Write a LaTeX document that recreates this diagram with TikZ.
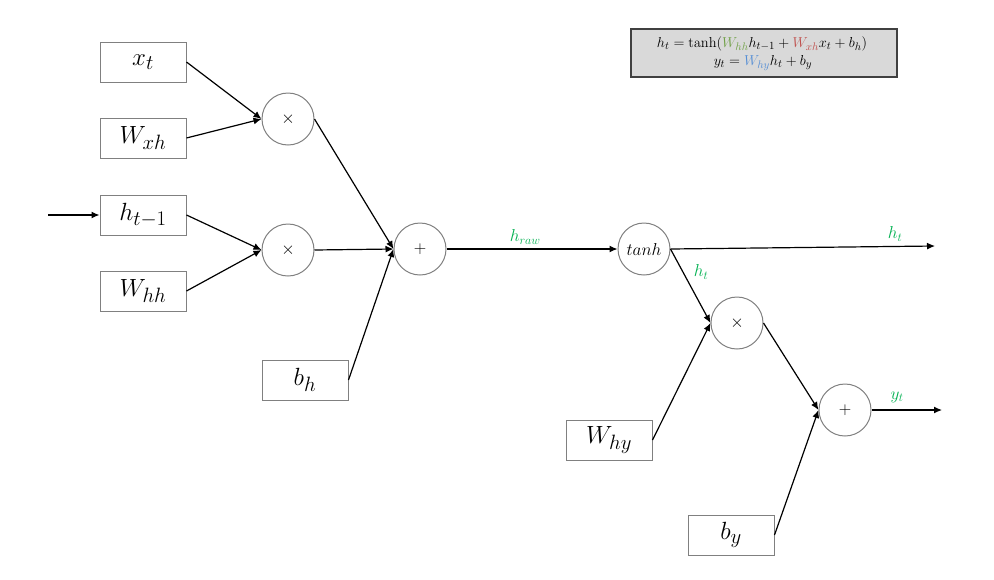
\documentclass[tikz,border=0pt]{standalone}
\usetikzlibrary{arrows.meta}
\definecolor{lbl}{RGB}{0,176,80}
\definecolor{wgreen}{RGB}{112,160,70}
\definecolor{wred}{RGB}{192,80,77}
\definecolor{wblue}{RGB}{85,142,213}
\definecolor{edgegray}{RGB}{128,128,128}
\definecolor{boxfill}{RGB}{217,217,217}
\begin{document}
\begin{tikzpicture}[x=1pt,y=-1pt,
  inbox/.style={draw=edgegray,line width=1pt,minimum width=86pt,minimum height=40pt,inner sep=0pt,font=\fontsize{28}{30}\selectfont},
  op/.style={draw=edgegray,line width=1pt,circle,minimum size=52pt,inner sep=0pt,font=\fontsize{16}{18}\selectfont},
  conn/.style={line width=1.2pt,-{Latex[length=8pt,width=7pt]}},
  tag/.style={text=lbl,font=\fontsize{17}{19}\selectfont},
  eqtext/.style={font=\fontsize{15.5}{17}\selectfont}]
\useasboundingbox (0,0) rectangle (994,579);

% input boxes
\node[inbox] (xt)  at (143,62)  {$x_t$};
\node[inbox] (wxh) at (143,138) {$W_{xh}$};
\node[inbox] (hp)  at (143,215) {$h_{t-1}$};
\node[inbox] (whh) at (143,291) {$W_{hh}$};
\node[inbox] (bh)  at (305,380) {$b_h$};
\node[inbox] (why) at (609,440) {$W_{hy}$};
\node[inbox] (by)  at (731,535) {$b_y$};

% operation nodes
\node[op] (m1) at (288,119) {$\times$};
\node[op] (m2) at (288,250) {$\times$};
\node[op] (a1) at (420,249) {$+$};
\node[op,font=\fontsize{17}{19}\selectfont] (th) at (644,249) {$tanh$};
\node[op] (m3) at (737,323) {$\times$};
\node[op] (a2) at (845,410) {$+$};

% free ends
\coordinate (hin)  at (48,215);
\coordinate (hout) at (935,246);
\coordinate (yout) at (942,410);

% equations panel
\node[draw=black!75,line width=2pt,fill=boxfill,minimum width=266pt,minimum height=48pt,inner sep=0pt] (eq) at (763.5,52.5) {};
\node[eqtext] (eq1) at (762,44)
  {$h_t=\tanh(\textcolor{wgreen}{W_{hh}}h_{t-1}+\textcolor{wred}{W_{xh}}x_t+b_h)$};
\node[eqtext] (eq2) at (763,63)
  {$y_t=\textcolor{wblue}{W_{hy}}h_t+b_y$};

% connectors
\draw[conn] (hin) -- (hp.west);
\draw[conn] (xt.east) -- (m1.west);
\draw[conn] (wxh.east) -- (m1.west);
\draw[conn] (hp.east) -- (m2.west);
\draw[conn] (whh.east) -- (m2.west);
\draw[conn] (m1.east) -- (a1.west);
\draw[conn] (m2.east) -- (a1.west);
\draw[conn] (bh.east) -- (a1.west);
\draw[conn] (a1.east) -- node[tag,above=1pt,pos=0.46] {$h_{raw}$} (th.west);
\draw[conn] (th.east) -- (hout);
\node[tag] at (895,234) {$h_t$};
\draw[conn] (th.east) -- (m3.west);
\node[tag] at (701,272) {$h_t$};
\draw[conn] (why.east) -- (m3.west);
\draw[conn] (m3.east) -- (a2.west);
\draw[conn] (by.east) -- (a2.west);
\draw[conn] (a2.east) -- (yout);
\node[tag] at (897,397) {$y_t$};
\end{tikzpicture}
\end{document}
